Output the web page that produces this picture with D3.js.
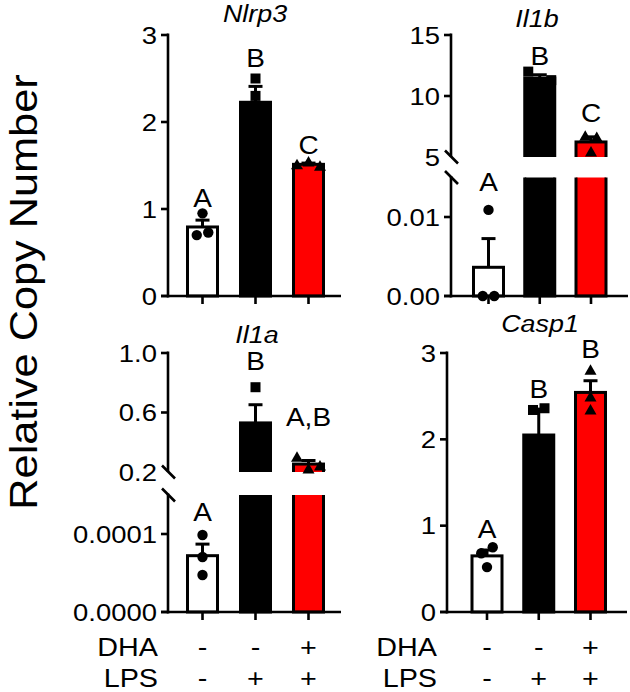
<!DOCTYPE html>
<html><head><meta charset="utf-8">
<script src="https://cdn.jsdelivr.net/npm/d3@7"></script>
<style>body{margin:0;background:#fff} svg text{font-family:"Liberation Sans",Arial,sans-serif;fill:#000}</style>
</head><body><svg id="c" width="630" height="692"></svg>
<script>
// ---------------- DATA ----------------
const groups = ["Control", "LPS", "DHA+LPS"];
const dhaRow = ["-", "-", "+"];
const lpsRow = ["-", "+", "+"];
const groupFills = ["#ffffff", "#000000", "#ff0000"];
const groupShapes = ["circle", "square", "triangle"];

// replicate values per group (Control, LPS, DHA+LPS)
const nlrp3Reps = [[0.70, 0.95, 0.73], [2.50, 2.30, 1.88], [1.51, 1.54, 1.49]];
const il1bReps  = [[0, 0.0109, 0], [12.0, 11.1, 11.3], [6.7, 5.4, 6.6]];
const il1aReps  = [[0.0000987, 0.0000705, 0.0000474], [0.77, 0.45, 0.37], [0.30, 0.22, 0.24]];
const casp1Reps = [[0.68, 0.75, 0.52], [2.34, 1.45, 2.36], [2.80, 2.49, 2.34]];

const nlrp3Letters = ["A", "B", "C"];
const il1bLetters  = ["A", "B", "C"];
const il1aLetters  = ["A", "B", "A,B"];
const casp1Letters = ["A", "B", "B"];

const nlrp3Ticks = [0, 1, 2, 3];
const il1bTicksLow = [0, 0.01];
const il1bTicksHigh = [5, 10, 15];
const il1aTicksLow = [0, 0.0001];
const il1aTicksHigh = [0.2, 0.6, 1.0];
const casp1Ticks = [0, 1, 2, 3];

// ---------------- LAYOUT ----------------
const panels = [
  { title: "Nlrp3", titleX: 255, titleY: 22, reps: nlrp3Reps, letters: nlrp3Letters, gaps: [1, 6, 2.5],
    axisX: 168, axisEnd: 341, centers: [202.5, 308.5],
    segs: [{ domain: [0, 3], range: [296, 35], ticks: nlrp3Ticks, fmt: "d" }] },
  { title: "Il1b", titleX: 537, titleY: 27, reps: il1bReps, letters: il1bLetters, gaps: [14, 1, 9],
    axisX: 451, axisEnd: 628, centers: [488.5, 591],
    segs: [{ domain: [0, 0.015], range: [296, 177.5], ticks: il1bTicksLow, fmt: ".2f" },
           { domain: [5, 15], range: [157, 35], ticks: il1bTicksHigh, fmt: "d" }] },
  { title: "Il1a", titleX: 257, titleY: 343, reps: il1aReps, letters: il1aLetters, gaps: [9, 12, 26],
    axisX: 168, axisEnd: 341, centers: [202.5, 308.5],
    segs: [{ domain: [0, 0.00015], range: [612, 495], ticks: il1aTicksLow, fmt: ".4f" },
           { domain: [0.2, 1.0], range: [472, 353], ticks: il1aTicksHigh, fmt: ".1f" }] },
  { title: "Casp1", titleX: 540, titleY: 332, reps: casp1Reps, letters: casp1Letters, gaps: [4, 5, 7],
    axisX: 447, axisEnd: 627, centers: [487, 590.5],
    segs: [{ domain: [0, 3], range: [612, 353], ticks: casp1Ticks, fmt: "d" }] }
];

const svg = d3.select("#c");
const defs = svg.append("defs");
const SW = 3, BARW = 30, CAP = 14, TICK = 7, SPREAD = 11.5, MR = 5.2;
const HS = 1.12; // horizontal text stretch of the reference lettering

function txt(parent, x, y, s, size, anchor, hs) {
  return parent.append("text")
    .attr("transform", `translate(${x},${y}) scale(${hs || HS},1)`)
    .attr("text-anchor", anchor).attr("font-size", size).text(s);
}

function segOf(p, v) {
  for (let k = p.segs.length - 1; k > 0; k--) if (v >= p.segs[k].domain[0]) return k;
  return 0;
}

panels.forEach((p, pi) => {
  const g = svg.append("g");
  const x = d3.scalePoint().domain(groups).range(p.centers);
  p.segs.forEach(s => { s.scale = d3.scaleLinear().domain(s.domain).range(s.range); });
  const broken = p.segs.length > 1;
  const yBottom = p.segs[0].range[0];
  const stats = p.reps.map(r => ({ mean: d3.mean(r), sem: d3.deviation(r) / Math.sqrt(r.length) }));

  // bars (clipped per segment)
  p.segs.forEach((s, k) => {
    const id = "clip" + pi + "_" + k;
    const top = s.range[1] - (k === p.segs.length - 1 ? 6 : 0);
    const bot = s.range[0] + (k === 0 ? 4 : 0);
    defs.append("clipPath").attr("id", id).append("rect")
      .attr("x", p.axisX - 2).attr("width", p.axisEnd - p.axisX + 4)
      .attr("y", top).attr("height", bot - top);
    const bg = g.append("g").attr("clip-path", `url(#${id})`);
    groups.forEach((gr, i) => {
      const m = stats[i].mean;
      if (m < s.domain[0] && k > 0) return;
      const yTop = m > s.domain[1] ? s.range[1] - 10 : s.scale(m);
      const yBot = k === 0 ? s.scale(0) : s.range[0] + 10;
      bg.append("rect").attr("x", x(gr) - BARW / 2).attr("width", BARW)
        .attr("y", yTop).attr("height", yBot - yTop)
        .attr("fill", groupFills[i]).attr("stroke", "#000").attr("stroke-width", SW);
    });
  });

  // y axis segments, ticks, labels
  p.segs.forEach((s, k) => {
    g.append("line").attr("x1", p.axisX).attr("x2", p.axisX)
      .attr("y1", s.range[0] + (k === 0 ? SW / 2 : 0)).attr("y2", s.range[1] - SW / 2)
      .attr("stroke", "#000").attr("stroke-width", SW - 0.4);
    const f = d3.format(s.fmt);
    s.ticks.forEach(t => {
      const yy = s.scale(t);
      if (!(broken && k > 0 && t === s.domain[0])) {
        g.append("line").attr("x1", p.axisX - TICK).attr("x2", p.axisX).attr("y1", yy).attr("y2", yy)
          .attr("stroke", "#000").attr("stroke-width", SW - 0.4);
      }
      txt(g, p.axisX - 11, yy + 8.8, f(t), 24.5, "end");
    });
  });
  if (broken) {
    [p.segs[1].range[0], p.segs[0].range[1]].forEach(yy => {
      g.append("line").attr("x1", p.axisX - 6).attr("x2", p.axisX + 7)
        .attr("y1", yy - 6.5).attr("y2", yy + 6.5).attr("stroke", "#000").attr("stroke-width", SW - 0.4);
    });
  }

  // x axis
  g.append("line").attr("x1", p.axisX - TICK).attr("x2", p.axisEnd).attr("y1", yBottom).attr("y2", yBottom)
    .attr("stroke", "#000").attr("stroke-width", SW - 0.4);
  groups.forEach(gr => {
    g.append("line").attr("x1", x(gr)).attr("x2", x(gr)).attr("y1", yBottom).attr("y2", yBottom + 8)
      .attr("stroke", "#000").attr("stroke-width", SW - 0.4);
  });

  // error bars (upper only)
  groups.forEach((gr, i) => {
    const { mean, sem } = stats[i];
    const s = p.segs[segOf(p, mean)];
    const y1 = s.scale(mean), y2 = s.scale(mean + sem);
    g.append("line").attr("x1", x(gr)).attr("x2", x(gr)).attr("y1", y1).attr("y2", y2)
      .attr("stroke", "#000").attr("stroke-width", SW);
    g.append("line").attr("x1", x(gr) - CAP / 2).attr("x2", x(gr) + CAP / 2).attr("y1", y2).attr("y2", y2)
      .attr("stroke", "#000").attr("stroke-width", SW);
  });

  // points with simple overlap spreading
  groups.forEach((gr, i) => {
    const pts = p.reps[i].map((v, j) => ({ v, j, y: p.segs[segOf(p, v)].scale(v) }));
    const sorted = pts.slice().sort((a, b) => a.y - b.y);
    const clusters = [];
    sorted.forEach(pt => {
      const last = clusters[clusters.length - 1];
      if (last && pt.y - last[last.length - 1].y < 10.5) last.push(pt); else clusters.push([pt]);
    });
    clusters.forEach(c => {
      c.sort((a, b) => a.j - b.j);
      c.forEach((pt, idx) => { pt.dx = (idx - (c.length - 1) / 2) * SPREAD; });
    });
    const shape = groupShapes[i];
    pts.forEach(pt => {
      const cx = x(gr) + pt.dx, cy = pt.y;
      if (shape === "circle") {
        g.append("circle").attr("cx", cx).attr("cy", cy).attr("r", MR).attr("fill", "#000");
      } else if (shape === "square") {
        g.append("rect").attr("x", cx - 5).attr("y", cy - 5).attr("width", 10).attr("height", 10).attr("fill", "#000");
      } else {
        g.append("path").attr("d", `M${cx},${cy - 6}L${cx + 6},${cy + 4.5}L${cx - 6},${cy + 4.5}Z`).attr("fill", "#000");
      }
    });
    // significance letter
    const st = stats[i];
    const ptTop = d3.min(pts, d => d.y) - MR;
    const s2 = p.segs[segOf(p, st.mean)];
    const errTop = s2.scale(st.mean + st.sem) - SW / 2;
    const yTop = Math.min(ptTop, errTop);
    txt(g, x(gr), yTop - p.gaps[i], p.letters[i], 25, "middle");
  });

  // title
  txt(g, p.titleX, p.titleY, p.title, 24, "middle").attr("font-style", "italic");

  // treatment rows (bottom panels)
  if (pi >= 2) {
    const rows = [["DHA", dhaRow, 656], ["LPS", lpsRow, 687]];
    rows.forEach(([lab, signs, yy]) => {
      txt(g, p.axisX - 10, yy, lab, 25, "end", 1.15);
      signs.forEach((sg, i) => { txt(g, x(groups[i]), yy, sg, 25, "middle", 1.15); });
    });
  }
});

svg.append("text").attr("transform", "translate(37,292) rotate(-90) scale(1.11,1)")
  .attr("text-anchor", "middle").attr("font-size", 39).text("Relative Copy Number");
</script></body></html>
